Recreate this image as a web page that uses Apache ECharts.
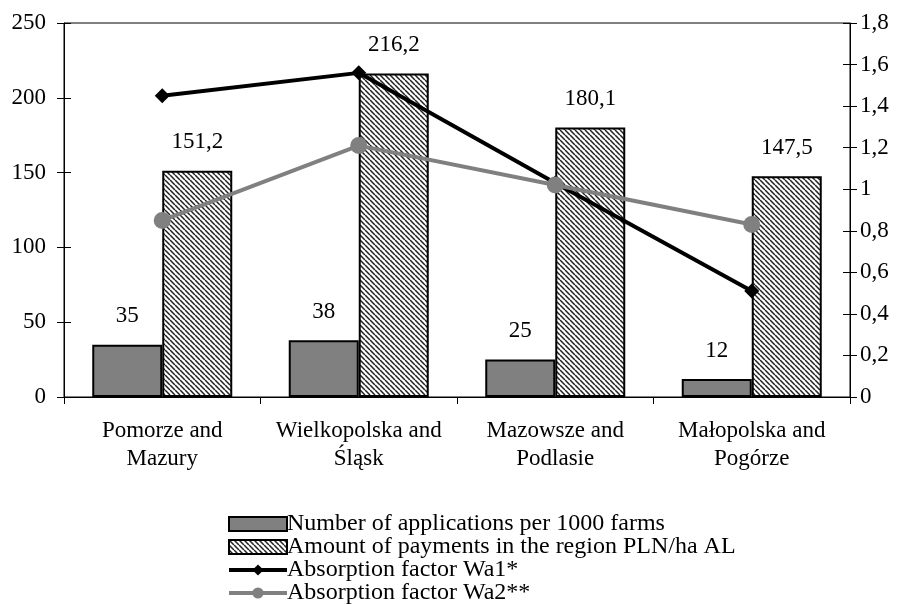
<!DOCTYPE html>
<html>
<head>
<meta charset="utf-8">
<script src="https://cdn.jsdelivr.net/npm/echarts@6/dist/echarts.min.js"></script>
<style>
  html, body { margin: 0; padding: 0; background: #fff; }
  #main { width: 903px; height: 604px; }
</style>
</head>
<body>
<div id="main"></div>
<script>
var categories = ['Pomorze and\nMazury', 'Wielkopolska and\nŚląsk', 'Mazowsze and\nPodlasie', 'Małopolska and\nPogórze'];
var applications = [35, 38, 25, 12];
var payments = [151.2, 216.2, 180.1, 147.5];
var wa1 = [1.45, 1.56, 1.03, 0.51];
var wa2 = [0.85, 1.21, 1.02, 0.83];
var leftTicks = [0, 250, 50];
var rightTicks = [0, 1.8, 0.2];

var font = 'Liberation Serif';
var fs = 23;

// hatch pattern for the payments bars
function makeHatch() {
  var c = document.createElement('canvas');
  var s = 5;
  c.width = s; c.height = s;
  var ctx = c.getContext('2d');
  ctx.fillStyle = '#fff';
  ctx.fillRect(0, 0, s, s);
  ctx.strokeStyle = '#222';
  ctx.lineWidth = 1.5;
  ctx.beginPath();
  for (var k = -1; k <= 1; k++) {
    ctx.moveTo(k * s, 0);
    ctx.lineTo(k * s + s, s);
  }
  ctx.stroke();
  return c;
}
var hatch = { image: makeHatch(), repeat: 'repeat' };

function comma(v) { return String(v).replace('.', ','); }

var labelStyle = { fontFamily: font, fontSize: fs, color: '#000' };

var option = {
  animation: false,
  grid: { left: 64, right: 53, top: 23, bottom: 207, show: true, borderColor: '#000', borderWidth: 1 },
  legend: {
    orient: 'vertical',
    left: 222,
    top: 507,
    height: 100,
    itemWidth: 58,
    itemHeight: 14,
    itemGap: -1,
    textStyle: { fontFamily: font, fontSize: 24, color: '#000', padding: [0, 0, 0, -5] },
    data: [
      { name: 'Number of applications per 1000 farms', icon: 'rect' },
      { name: 'Amount of payments in the region PLN/ha AL', icon: 'rect' },
      { name: 'Absorption factor Wa1*', lineStyle: { width: 4 } },
      { name: 'Absorption factor Wa2**', lineStyle: { width: 4 } }
    ]
  },
  xAxis: {
    type: 'category',
    data: categories,
    axisLine: { lineStyle: { color: '#000' } },
    axisTick: { show: true, interval: 0, length: 7, lineStyle: { color: '#000' } },
    axisLabel: { interval: 0, fontFamily: font, fontSize: fs, color: '#000', margin: 20, lineHeight: 28 }
  },
  yAxis: [
    {
      type: 'value', position: 'left', min: leftTicks[0], max: leftTicks[1], interval: leftTicks[2],
      axisLine: { show: true, lineStyle: { color: '#000' } },
      axisTick: { show: true, length: 7, lineStyle: { color: '#000' } },
      axisLabel: { fontFamily: font, fontSize: fs, color: '#000', margin: 18 },
      splitLine: { show: false }
    },
    {
      type: 'value', position: 'right', min: rightTicks[0], max: rightTicks[1], interval: rightTicks[2],
      axisLine: { show: true, lineStyle: { color: '#000' } },
      axisTick: { show: true, length: 7, lineStyle: { color: '#000' } },
      axisLabel: { fontFamily: font, fontSize: fs, color: '#000', margin: 10, formatter: function (v) { return comma(Math.round(v * 10) / 10); } },
      splitLine: { show: false }
    },
    {
      type: 'value', position: 'left', min: leftTicks[0], max: leftTicks[1], interval: leftTicks[2],
      axisLine: { show: false }, axisLabel: { show: false }, splitLine: { show: false },
      axisTick: { show: true, inside: true, length: 7, lineStyle: { color: '#000' } }
    },
    {
      type: 'value', position: 'right', min: rightTicks[0], max: rightTicks[1], interval: rightTicks[2],
      axisLine: { show: false }, axisLabel: { show: false }, splitLine: { show: false },
      axisTick: { show: true, inside: true, length: 7, lineStyle: { color: '#000' } }
    }
  ],
  series: [
    {
      name: 'Number of applications per 1000 farms',
      type: 'bar',
      data: applications,
      barWidth: 70,
      barGap: '0%',
      itemStyle: { color: '#808080', borderColor: '#000', borderWidth: 2 },
      label: Object.assign({ show: true, position: 'top', distance: 17, formatter: function (p) { return comma(p.value); } }, labelStyle)
    },
    {
      name: 'Amount of payments in the region PLN/ha AL',
      type: 'bar',
      data: payments,
      barWidth: 70,
      barGap: '0%',
      itemStyle: { color: hatch, borderColor: '#000', borderWidth: 2 },
      label: Object.assign({ show: true, position: 'top', distance: 17, formatter: function (p) { return comma(p.value); } }, labelStyle)
    },
    {
      name: 'Absorption factor Wa1*',
      type: 'line',
      yAxisIndex: 1,
      data: wa1,
      symbol: 'diamond',
      symbolSize: 15,
      lineStyle: { color: '#000', width: 4 },
      itemStyle: { color: '#000' },
      z: 5
    },
    {
      name: 'Absorption factor Wa2**',
      type: 'line',
      yAxisIndex: 1,
      data: wa2,
      symbol: 'circle',
      symbolSize: 17,
      lineStyle: { color: '#808080', width: 4 },
      itemStyle: { color: '#808080' },
      z: 6
    }
  ]
};

var chartDom = document.getElementById('main');
var myChart = echarts.init(chartDom);
option && myChart.setOption(option);
</script>
</body>
</html>
